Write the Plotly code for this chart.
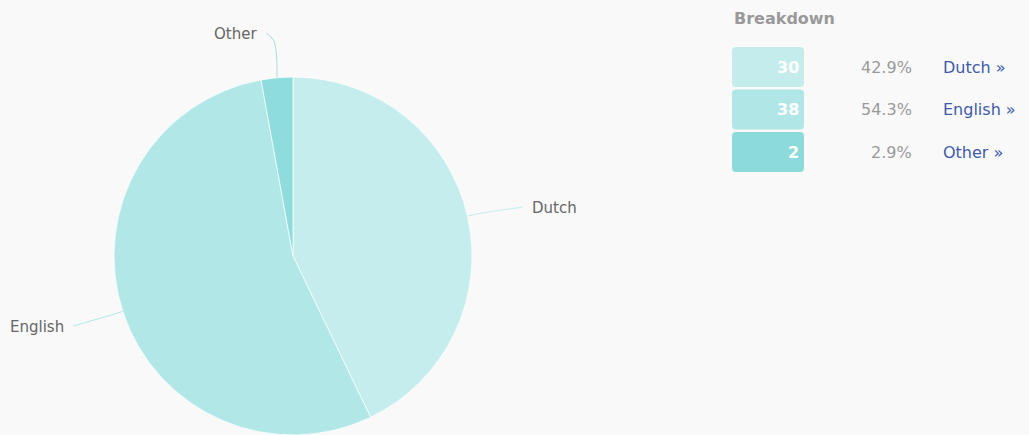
import math
import plotly.graph_objects as go

# Language breakdown
languages = ["Dutch", "English", "Other"]
counts = [30, 38, 2]
slice_colors = ["#c5eded", "#b2e7e7", "#8fdcdc"]
box_colors = ["#c4ecec", "#b0e6e6", "#8ddada"]

W, H = 1029, 435
BG = "#f9f9f9"
FONT = "DejaVu Sans"

# pie geometry in pixels (x right, y down)
PIE_X0, PIE_X1 = 113, 473
PIE_TOP = 77
cx = (PIE_X0 + PIE_X1) / 2
r = min(PIE_X1 - PIE_X0, H - PIE_TOP) / 2
cy = H - r

# where each pie label sits, and which side it hangs from
label_style = {
    "Dutch": dict(pos=(530, 208), anchor="left"),
    "English": dict(pos=(66, 327), anchor="right"),
    "Other": dict(pos=(259, 34), anchor="right"),
}

total = sum(counts)
fig = go.Figure()

fig.add_trace(go.Pie(
    labels=languages, values=counts, sort=False, direction="clockwise",
    rotation=0, textinfo="none", hoverinfo="label+value+percent",
    marker=dict(colors=slice_colors, line=dict(color="rgba(255,255,255,0.7)", width=1)),
    domain=dict(x=[PIE_X0 / W, PIE_X1 / W], y=[0, (H - PIE_TOP) / H]),
    showlegend=False,
))

# connectors from each slice's mid-angle edge to its label
start = 0.0
for name, val, col in zip(languages, counts, slice_colors):
    sweep = 360.0 * val / total
    mid = math.radians(start + sweep / 2)
    start += sweep
    ex, ey = cx + r * math.sin(mid), cy - r * math.cos(mid)
    lx, ly = label_style[name]["pos"]
    side = 1 if label_style[name]["anchor"] == "left" else -1
    # bend point: walk outward a little, then across to the label
    bx = ex + 10 * math.sin(mid)
    by = ey - 10 * math.cos(mid)
    if name == "Other":
        bx, by = ex - 3, ly + 7
    tx = lx - 7 * side
    fig.add_trace(go.Scatter(
        x=[ex, bx, tx], y=[ey, by, ly - 1], mode="lines",
        line=dict(color=col if name != "Other" else "#a9dede", width=1, shape="spline"),
        hoverinfo="skip", showlegend=False, xaxis="x", yaxis="y",
    ))
    fig.add_annotation(
        x=lx, y=ly, xref="x", yref="y", text=name, showarrow=False,
        xanchor=label_style[name]["anchor"], yanchor="middle",
        font=dict(family=FONT, size=15, color="#666666"),
    )

# breakdown table
TBL_X0, TBL_X1 = 732, 804
ROW_TOP, ROW_H, ROW_GAP = 47, 40, 2.5
fig.add_annotation(
    x=TBL_X0, y=18, xref="x", yref="y", text="<b>Breakdown</b>", showarrow=False,
    xanchor="left", yanchor="middle",
    font=dict(family=FONT, size=16, color="#999999"),
)


def rounded_rect(x0, y0, x1, y1, rad):
    return (f"M {x0+rad},{y0} L {x1-rad},{y0} Q {x1},{y0} {x1},{y0+rad} "
            f"L {x1},{y1-rad} Q {x1},{y1} {x1-rad},{y1} L {x0+rad},{y1} "
            f"Q {x0},{y1} {x0},{y1-rad} L {x0},{y0+rad} Q {x0},{y0} {x0+rad},{y0} Z")


for i, (name, val, col) in enumerate(zip(languages, counts, box_colors)):
    y0 = ROW_TOP + i * (ROW_H + ROW_GAP)
    y1 = y0 + ROW_H
    ym = (y0 + y1) / 2
    fig.add_shape(type="path", path=rounded_rect(TBL_X0, y0, TBL_X1, y1, 4),
                  xref="x", yref="y", fillcolor=col, line=dict(width=0), layer="below")
    fig.add_annotation(x=TBL_X1 - 3, y=ym, xref="x", yref="y", text=f"<b>{val}</b>",
                       showarrow=False, xanchor="right", yanchor="middle",
                       font=dict(family=FONT, size=16, color="#ffffff"))
    fig.add_annotation(x=914, y=ym, xref="x", yref="y", text=f"{100*val/total:.1f}%",
                       showarrow=False, xanchor="right", yanchor="middle",
                       font=dict(family=FONT, size=16, color="#999999"))
    fig.add_annotation(x=941, y=ym, xref="x", yref="y", text=f"{name} »",
                       showarrow=False, xanchor="left", yanchor="middle",
                       font=dict(family=FONT, size=16, color="#3d5ba9"))

fig.update_layout(
    width=W, height=H, margin=dict(l=0, r=0, t=0, b=0),
    paper_bgcolor=BG, plot_bgcolor="rgba(0,0,0,0)",
    xaxis=dict(range=[0, W], visible=False, fixedrange=True, domain=[0, 1]),
    yaxis=dict(range=[H, 0], visible=False, fixedrange=True, domain=[0, 1]),
    showlegend=False,
)

fig.write_html("out.html")
